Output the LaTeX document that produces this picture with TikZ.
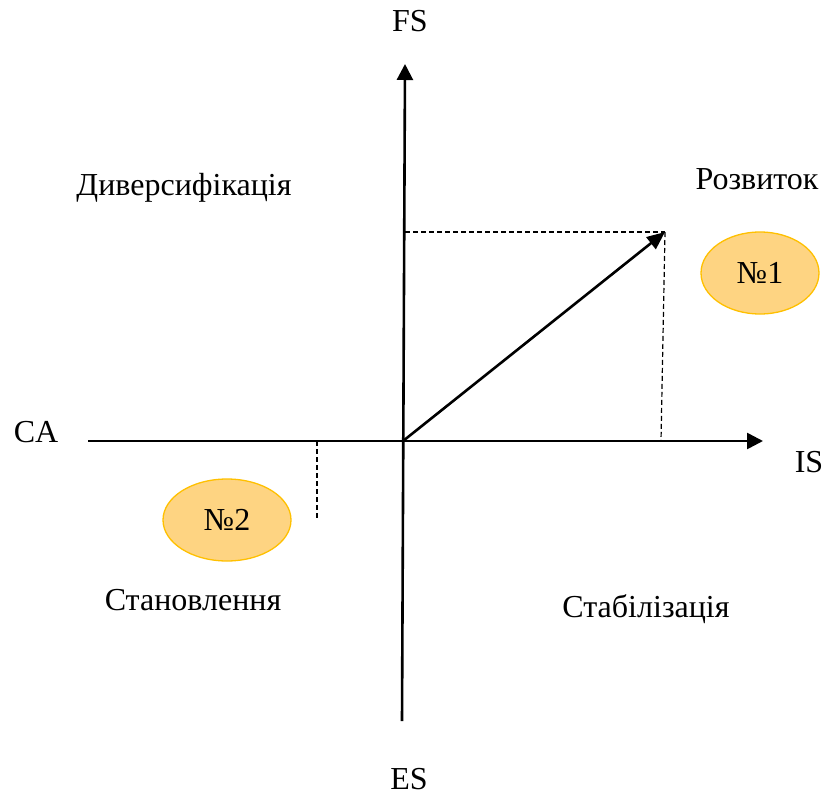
\documentclass[tikz,border=0pt]{standalone}
\usepackage{fontspec}
\setmainfont{Liberation Serif}
\definecolor{EllFill}{RGB}{254,212,130}
\definecolor{EllLine}{RGB}{255,192,0}
\usetikzlibrary{arrows.meta, shapes.geometric, positioning}

\begin{document}
\begin{tikzpicture}[x=1pt, y=-1pt, font=\fontsize{32}{38}\selectfont,
	axis/.style={line width=2.6pt, -{Triangle[length=16pt, width=16pt]}},
	proj/.style={line width=1.2pt, dash pattern=on 5pt off 3pt},
	stage/.style={ellipse, draw=EllLine, fill=EllFill, line width=1.3pt,
		minimum width=118pt, minimum height=82pt, inner sep=0pt}]
	\useasboundingbox (0,0) rectangle (838,798);

	% axes
	\coordinate (o) at (403,441);
	\coordinate (xl) at (88,441);
	\coordinate (xr) at (763,441);
	\coordinate (yb) at (402,721);
	\coordinate (yt) at (405,64);
	\draw[axis] (xl) -- (xr);
	\draw[axis] (yb) -- (yt);

	% vector and its projections
	\coordinate (v) at (665,232);
	\coordinate (vy) at (405,232);
	\coordinate (vx) at (661,441);
	\coordinate (cx) at (317,441);
	\coordinate (cy) at (317,518);
	\draw[axis, -{Triangle[length=18pt, width=15pt]}] (o) -- (v);
	\draw[proj] (vy) -- (v);
	\draw[proj] (v) -- (vx);
	\draw[proj] (cx) -- (cy);

	% axis labels
	\node (fs) at (410,21) {FS};
	\node (es) at (409,779) {ES};
	\node (ca) at (36,432) {CA};
	\node (is) at (809,462) {IS};

	% quadrants
	\node (div) at (184,188) {Диверсифікація};
	\node (roz) at (757,179) {Розвиток};
	\node (stn) at (193,600) {Становлення};
	\node (stb) at (646,609) {Стабілізація};

	\node[stage] (n1) at (760,273) {№1};
	\node[stage, minimum width=128pt] (n2) at (227,520) {№2};
\end{tikzpicture}
\end{document}
